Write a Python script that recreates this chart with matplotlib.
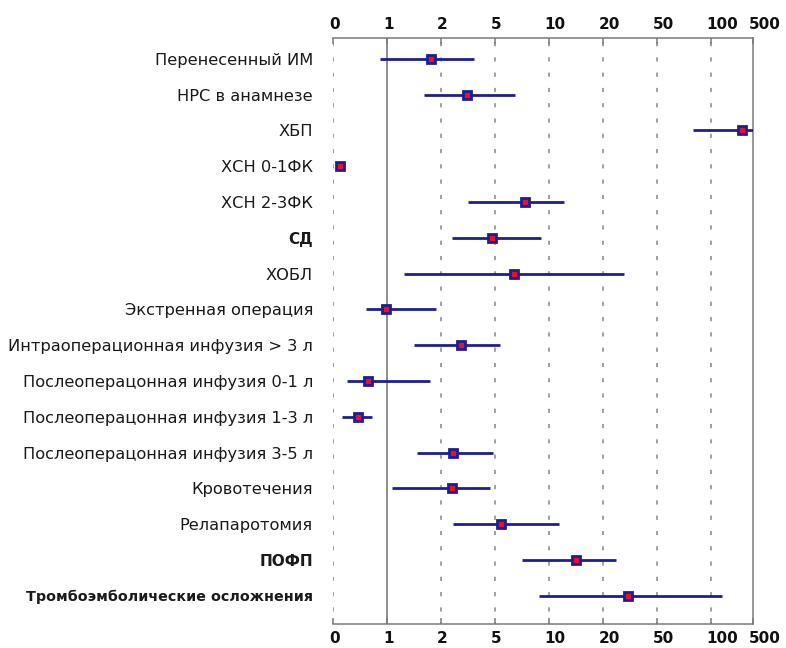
import numpy as np
import matplotlib
matplotlib.use("Agg")
import matplotlib.pyplot as plt
import matplotlib.transforms as mtransforms

plt.rcParams['font.family'] = ['DejaVu Sans']
plt.rcParams['lines.scale_dashes'] = False

# ---- data ----
categories = [
    "Перенесенный ИМ",
    "НРС в анамнезе",
    "ХБП",
    "ХСН 0-1ФК",
    "ХСН 2-3ФК",
    "СД",
    "ХОБЛ",
    "Экстренная операция",
    "Интраоперационная инфузия > 3 л",
    "Послеоперацонная инфузия 0-1 л",
    "Послеоперацонная инфузия 1-3 л",
    "Послеоперацонная инфузия 3-5 л",
    "Кровотечения",
    "Релапаротомия",
    "ПОФП",
    "Тромбоэмболические осложнения",
]
odds_ratio = [1.82, 3.44, 397, 0.125, 7.75, 4.82, 6.75, 0.98, 3.11, 0.645, 0.465, 2.69, 2.60, 5.6, 15.1, 33.8]
ci_low     = [0.87, 1.69, 84, 0.09, 3.5, 2.6, 1.32, 0.62, 1.50, 0.26, 0.175, 1.55, 1.10, 2.66, 7.5, 9.1]
ci_high    = [3.86, 6.9, 500, 0.16, 12.9, 9.3, 31.7, 1.90, 5.5, 1.80, 0.73, 4.88, 4.73, 11.9, 27.2, 213]

tick_values = [0, 1, 2, 5, 10, 20, 50, 100, 500]
tick_labels = ["0", "1", "2", "5", "10", "20", "50", "100", "500"]

# ---- styles ----
label_weight = ['normal'] * 16
label_size = [11.7] * 16
label_weight[5] = 'bold'
label_weight[14] = 'bold'
label_weight[15] = 'bold'
label_size[5] = 11.0
label_size[14] = 11.0
label_size[15] = 10.3

# equally spaced tick scale (piecewise), last tick at the right edge
tick_pos = [0, 1, 2, 3, 4, 5, 6, 7, 7.78]


def forward(x):
    return np.interp(x, tick_values, tick_pos)


def inverse(y):
    return np.interp(y, tick_pos, tick_values)


fig = plt.figure(figsize=(7.86, 6.48), dpi=100)
ax = fig.add_axes([0.4237, 0.0366, 0.9576 - 0.4237, 0.9406 - 0.0366])
ax.set_xscale('function', functions=(forward, inverse))
ax.set_xlim(0, 500)

y = np.arange(len(categories))
ax.set_ylim(len(categories) - 0.2, -0.57)

# grid lines
for v in tick_values[:-1]:
    if v == 1:
        ax.axvline(v, color='#858585', lw=1.3, zorder=1)
    else:
        ax.axvline(v, color='#a0a0a0', lw=1.4, ls=(2, (3, 8)), zorder=1)

navy = '#1e1e94'
red = '#e8102c'
for yi, o, lo, hi in zip(y, odds_ratio, ci_low, ci_high):
    ax.plot([lo, hi], [yi, yi], color=navy, lw=2.0, solid_capstyle='butt', zorder=3)
ax.plot(odds_ratio, y, ls='none', marker='s', ms=5.6, mew=2.0,
        mec=navy, mfc=red, zorder=4)

# spines
for s in ['top', 'bottom', 'right']:
    ax.spines[s].set_color('#7a7a7a')
    ax.spines[s].set_linewidth(1.1)
ax.spines['left'].set_visible(False)

ax.set_xticks(tick_values)
ax.set_xticklabels(tick_labels)
ax.tick_params(axis='x', which='both', top=True, bottom=True, labeltop=True, labelbottom=True,
               direction='in', length=4, width=1.1, color='#7a7a7a', pad=5,
               labelsize=11)
ax.xaxis.set_minor_locator(matplotlib.ticker.NullLocator())
offset = mtransforms.ScaledTranslation(-4 / 100, 0, fig.dpi_scale_trans)
for t in ax.xaxis.get_major_ticks():
    for lab in (t.label1, t.label2):
        lab.set_fontweight('bold')
        lab.set_horizontalalignment('left')
        lab.set_color('#111111')
        lab.set_transform(lab.get_transform() + offset)

ax.set_yticks(y)
ax.set_yticklabels(categories)
ax.tick_params(axis='y', length=0, pad=14.5)
for lab, w, s in zip(ax.get_yticklabels(), label_weight, label_size):
    lab.set_fontweight(w)
    lab.set_fontsize(s)
    lab.set_color('#1a1a1a')

fig.savefig('out.png', dpi=100)
